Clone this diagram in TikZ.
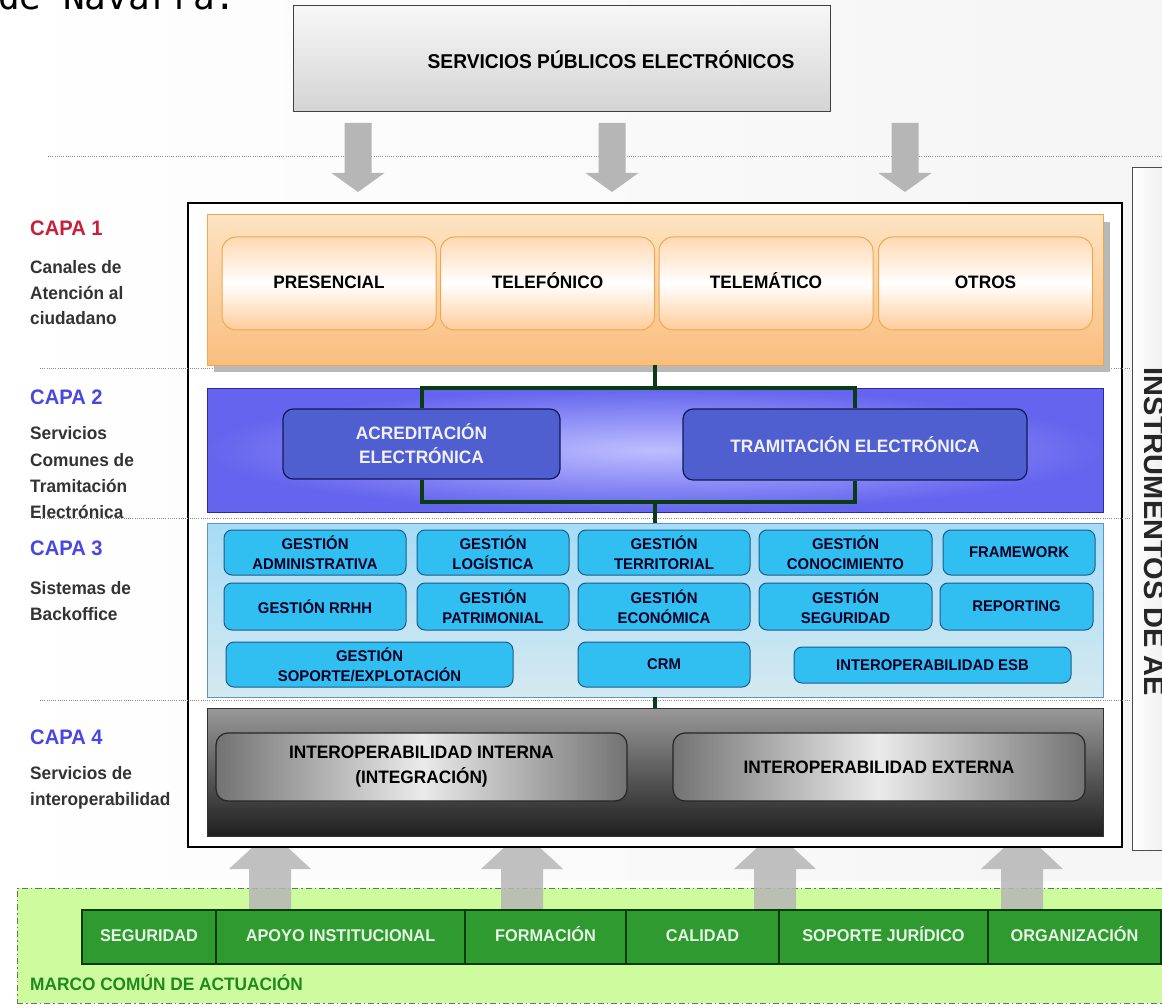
\documentclass[tikz,border=0pt]{standalone}
\usepackage{fontspec}
\setmainfont{Liberation Sans}[FakeStretch=0.96]
\newfontfamily\widefont{Liberation Sans}
\newfontfamily\pagefont{DejaVu Sans Mono}
\usetikzlibrary{shadows}

\definecolor{capared}{HTML}{C8203A}
\definecolor{capablue}{HTML}{4848E0}
\definecolor{desctext}{HTML}{333333}
\definecolor{arrowgray}{HTML}{B6B6B6}
\definecolor{orangeedge}{HTML}{F0A850}
\definecolor{orangetop}{HTML}{FDE3C2}
\definecolor{orangebot}{HTML}{F9BE7E}
\definecolor{bluelayer}{HTML}{6464EE}
\definecolor{bluecenter}{HTML}{BDBDFF}
\definecolor{blueedge}{HTML}{2A2AA0}
\definecolor{acrefill}{HTML}{4F5FCF}
\definecolor{acreedge}{HTML}{101A5A}
\definecolor{cyantop}{HTML}{A6DCF6}
\definecolor{cyanbot}{HTML}{D4E9F0}
\definecolor{cyanedge}{HTML}{5A96C8}
\definecolor{gestfill}{HTML}{30BFF0}
\definecolor{gestedge}{HTML}{1B5C8E}
\definecolor{linkgreen}{HTML}{0B3B12}
\definecolor{marcofill}{HTML}{CDFB9E}
\definecolor{marcoedge}{HTML}{5E7A5E}
\definecolor{barfill}{HTML}{2F9A2F}
\definecolor{baredge}{HTML}{0C3C0C}
\definecolor{bartext}{HTML}{E6F4E6}
\definecolor{marcotext}{HTML}{1E8A1E}

\tikzset{
	sepline/.style={black!45,line width=1pt,dash pattern=on 1pt off 1.2pt},
	topbox/.style={draw=black!75,line width=1pt,top color=black!3,bottom color=black!17,minimum width=537pt,minimum height=106pt,inner sep=0pt,outer sep=0pt},
	mainframe/.style={draw=black,line width=1.2pt,fill=white,minimum width=934pt,minimum height=644pt,inner sep=0pt,outer sep=0pt},
	instbox/.style={draw=black!70,line width=1pt,left color=white,right color=black!8,minimum width=43pt,minimum height=682pt,inner sep=0pt,outer sep=0pt},
	capabox/.style={minimum width=896pt,inner sep=0pt,outer sep=0pt,line width=1pt},
	capalbl/.style={anchor=north west,inner sep=0pt,font=\fontsize{21}{21}\selectfont\bfseries},
	capadesc/.style={anchor=north west,inner sep=0pt,align=left,text=desctext,font=\fontsize{18}{25.5}\selectfont\bfseries},
	canal/.style={draw=orangeedge,line width=1pt,rounded corners=14pt,minimum width=214pt,minimum height=93pt,top color=orange!30,bottom color=orange!40,middle color=white,text height=13pt,text depth=3.5pt,font=\fontsize{18}{20}\selectfont\bfseries},
	acre/.style={draw=acreedge,line width=1.2pt,rounded corners=10pt,fill=acrefill,text=white!94!blue,align=center,font=\fontsize{18}{24}\selectfont\bfseries},
	gest/.style={draw=gestedge,line width=1pt,rounded corners=8pt,fill=gestfill,text=black!85!blue,align=center,font=\fontsize{15.5}{20}\selectfont\bfseries},
	interop/.style={draw=black!85,line width=1.2pt,rounded corners=12pt,left color=black!55,right color=black!55,middle color=black!8,align=center,minimum width=411pt,minimum height=68pt,font=\fontsize{18}{25}\selectfont\bfseries},
	enlace/.style={linkgreen,line width=4pt},
	celda/.style={draw=baredge,line width=2.5pt,fill=barfill,text=bartext,minimum height=54pt,inner sep=0pt,outer sep=0pt,text height=12.5pt,text depth=3.5pt,font=\fontsize{17}{17}\selectfont\bfseries},
}

\newcommand{\pubflecha}[1]{\fill[arrowgray] (#1-13.5,123) -- (#1+13.5,123) -- (#1+13.5,173) -- (#1+26.5,173) -- (#1,192) -- (#1-26.5,173) -- (#1-13.5,173) -- cycle;}
\newcommand{\apoyoflecha}[1]{\fill[arrowgray,fill opacity=0.85] (#1-21,910) -- (#1-21,869) -- (#1-41,869) -- (#1,831) -- (#1+41,869) -- (#1+21,869) -- (#1+21,910) -- cycle;}

\begin{document}
\begin{tikzpicture}[x=1pt,y=-1pt]
	\useasboundingbox (0,0) rectangle (1162,1008);
	\shade[left color=white,right color=black!4] (0,0) rectangle (1162,880);
	\node[anchor=base west,inner sep=0pt,font=\pagefont\fontsize{36}{36}\selectfont] (navarra) at (-2,10) {de Navarra:};
	
	% servicios publicos
	\node[topbox] (servicios) at (561.5,59) {};
	\node[font=\fontsize{20}{20}\selectfont\bfseries] (serviciostxt) at (611,60) {SERVICIOS PÚBLICOS ELECTRÓNICOS};
	\draw[sepline] (48,157) -- (1162,157);
	\pubflecha{358} \pubflecha{612} \pubflecha{905}
	
	% marco comun de actuacion
	\node[fill=marcofill,minimum width=1163pt,minimum height=115pt,inner sep=0pt,draw=marcoedge,line width=1pt,dash pattern=on 6pt off 3pt on 1.5pt off 3pt] (marco) at (598.5,945.5) {};
	\apoyoflecha{270} \apoyoflecha{522} \apoyoflecha{775} \apoyoflecha{1022}
	\node[celda,minimum width=134pt] (seguridad) at (149,937) {SEGURIDAD};
	\node[celda,minimum width=249pt] (apoyo) at (340.5,937) {APOYO INSTITUCIONAL};
	\node[celda,minimum width=161pt] (formacion) at (545.5,937) {FORMACIÓN};
	\node[celda,minimum width=153pt] (calidad) at (702.5,937) {CALIDAD};
	\node[celda,minimum width=209pt] (juridico) at (883.5,937) {SOPORTE JURÍDICO};
	\node[celda,minimum width=173pt] (organizacion) at (1074.5,937) {ORGANIZACIÓN};
	\node[anchor=base west,inner sep=0pt,text=marcotext,font=\fontsize{18}{18}\selectfont\bfseries] (marcotxt) at (30,990) {MARCO COMÚN DE ACTUACIÓN};
	
	% marco principal y capas
	\node[mainframe] (principal) at (655,525) {};
	\node[instbox] (inst) at (1153.5,509) {};
	\node[rotate=-90,font=\widefont\fontsize{29}{29}\selectfont\bfseries,text=black!85] (insttxt) at (1154,532) {INSTRUMENTOS DE AE};
	\draw[sepline] (40,368) -- (1130,368);
	\draw[sepline] (40,518) -- (1130,518);
	\draw[sepline] (40,700) -- (1130,700);
	
	\node[capabox,minimum height=150pt,draw=orangeedge,top color=orangetop,bottom color=orangebot,drop shadow={shadow xshift=7pt,shadow yshift=-7pt,fill=black!28,opacity=1}] (capa1) at (655,290) {};
	\node[capabox,minimum height=124pt,draw=blueedge,inner color=bluecenter,outer color=bluelayer] (capa2) at (655,450) {};
	\node[capabox,minimum height=174pt,draw=cyanedge,top color=cyantop,bottom color=cyanbot] (capa3) at (655,610) {};
	\node[capabox,minimum height=128pt,draw=black!80,top color=black!40,bottom color=black!88] (capa4) at (655,772) {};
	
	\node[capalbl,text=capared] (capa1lbl) at (30,220.5) {CAPA 1};
	\node[capadesc] (capa1desc) at (30,260.5) {Canales de\\Atención al\\ciudadano};
	\node[capalbl,text=capablue] (capa2lbl) at (30,389.5) {CAPA 2};
	\node[capadesc,font=\fontsize{18}{26.3}\selectfont\bfseries] (capa2desc) at (30,426.5) {Servicios\\Comunes de\\Tramitación\\Electrónica};
	\node[capalbl,text=capablue] (capa3lbl) at (30,540.5) {CAPA 3};
	\node[capadesc] (capa3desc) at (30,581.5) {Sistemas de\\Backoffice};
	\node[capalbl,text=capablue] (capa4lbl) at (30,729.5) {CAPA 4};
	\node[capadesc] (capa4desc) at (30,766.5) {Servicios de\\interoperabilidad};
	
	% capa 1
	\node[canal] (presencial) at (329,283.5) {PRESENCIAL};
	\node[canal] (telefonico) at (547.5,283.5) {TELEFÓNICO};
	\node[canal] (telematico) at (766,283.5) {TELEMÁTICO};
	\node[canal] (otros) at (985.5,283.5) {OTROS};
	
	% capa 2
	\node[acre,minimum width=277pt,minimum height=70pt] (acreditacion) at (421.5,444) {ACREDITACIÓN\\ELECTRÓNICA};
	\node[acre,minimum width=344pt,minimum height=71pt] (tramitacion) at (855,444.5) {TRAMITACIÓN ELECTRÓNICA};
	\coordinate (j1) at (capa2.north);
	\coordinate (j2) at (655,502);
	\draw[enlace] (capa1.south) -- (j1);
	\draw[enlace] (acreditacion.north) |- (j1) -| (tramitacion.north);
	\draw[enlace] (acreditacion.south) |- (j2) -| (tramitacion.south);
	\draw[enlace] (j2) -- (capa3.north);
	\draw[enlace] (capa3.south) -- (capa4.north);
	
	% capa 3
	\node[gest,minimum width=182pt,minimum height=45pt] (administrativa) at (315,552.5) {GESTIÓN\\ADMINISTRATIVA};
	\node[gest,minimum width=152pt,minimum height=45pt] (logistica) at (493,552.5) {GESTIÓN\\LOGÍSTICA};
	\node[gest,minimum width=172pt,minimum height=45pt] (territorial) at (664,552.5) {GESTIÓN\\TERRITORIAL};
	\node[gest,minimum width=173pt,minimum height=45pt] (conocimiento) at (845.5,552.5) {GESTIÓN\\CONOCIMIENTO};
	\node[gest,minimum width=152pt,minimum height=45pt] (framework) at (1019,552.5) {FRAMEWORK};
	\node[gest,minimum width=182pt,minimum height=47pt] (rrhh) at (315,606.5) {GESTIÓN RRHH};
	\node[gest,minimum width=152pt,minimum height=47pt] (patrimonial) at (493,606.5) {GESTIÓN\\PATRIMONIAL};
	\node[gest,minimum width=172pt,minimum height=47pt] (economica) at (664,606.5) {GESTIÓN\\ECONÓMICA};
	\node[gest,minimum width=173pt,minimum height=47pt] (seguridadg) at (845.5,606.5) {GESTIÓN\\SEGURIDAD};
	\node[gest,minimum width=153pt,minimum height=47pt] (reporting) at (1016.5,606.5) {REPORTING};
	\node[gest,minimum width=287pt,minimum height=45pt] (explotacion) at (369.5,664.5) {GESTIÓN\\SOPORTE/EXPLOTACIÓN};
	\node[gest,minimum width=172pt,minimum height=45pt] (crm) at (664,664.5) {CRM};
	\node[gest,minimum width=277pt,minimum height=36pt] (esb) at (932.5,665) {INTEROPERABILIDAD ESB};
	
	% capa 4
	\node[interop] (interna) at (421.5,767) {INTEROPERABILIDAD INTERNA\\(INTEGRACIÓN)};
	\node[interop,minimum width=412pt] (externa) at (879,767) {INTEROPERABILIDAD EXTERNA};
\end{tikzpicture}
\end{document}
